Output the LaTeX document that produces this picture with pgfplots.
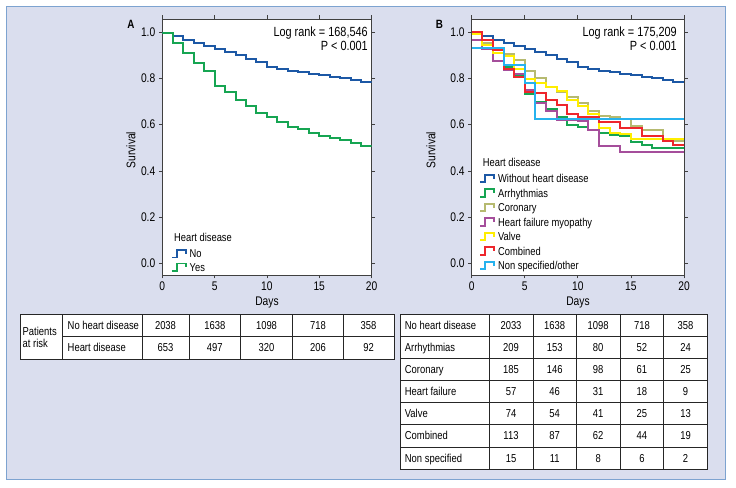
\documentclass[border=0pt]{standalone}
\usepackage{fontspec}
\setmainfont{Liberation Sans}[FakeStretch=0.82]
\usepackage{pgfplots}
\usepackage{pgfplotstable}
\pgfplotsset{compat=1.18}
\definecolor{bgc}{RGB}{218,222,238}
\definecolor{brd}{RGB}{125,163,208}
\definecolor{cblue}{RGB}{28,88,165}
\definecolor{cgreen}{RGB}{22,165,82}
\definecolor{colive}{RGB}{182,186,112}
\definecolor{cpurple}{RGB}{165,78,155}
\definecolor{cyellow}{RGB}{255,238,0}
\definecolor{cred}{RGB}{238,38,44}
\definecolor{ccyan}{RGB}{38,178,238}
\newcommand{\fs}[1]{\fontsize{#1bp}{#1bp}\selectfont}

\pgfplotstableread{
d no yes
0 0.995 0.995
1 0.984 0.952
2 0.964 0.911
3 0.955 0.867
4 0.941 0.832
5 0.926 0.769
6 0.913 0.743
7 0.900 0.707
8 0.884 0.682
9 0.870 0.652
10 0.850 0.633
11 0.842 0.613
12 0.834 0.589
13 0.827 0.580
14 0.821 0.565
15 0.815 0.550
16 0.808 0.541
17 0.802 0.532
18 0.793 0.519
19 0.786 0.509
20 0.786 0.509
}\tabA

\pgfplotstableread{
d wo ar co hf va cb ns
0 0.995 0.990 0.995 0.965 0.990 1.000 0.930
1 0.984 0.950 0.955 0.928 0.945 0.965 0.930
2 0.964 0.925 0.930 0.877 0.909 0.925 0.930
3 0.955 0.850 0.906 0.837 0.895 0.840 0.860
4 0.941 0.810 0.880 0.820 0.840 0.805 0.860
5 0.926 0.733 0.833 0.748 0.797 0.740 0.779
6 0.913 0.700 0.801 0.693 0.780 0.735 0.625
7 0.900 0.667 0.765 0.657 0.762 0.707 0.625
8 0.884 0.635 0.743 0.622 0.744 0.685 0.625
9 0.870 0.598 0.720 0.620 0.707 0.648 0.625
10 0.850 0.592 0.693 0.617 0.681 0.632 0.625
11 0.842 0.577 0.657 0.577 0.648 0.632 0.625
12 0.834 0.566 0.638 0.507 0.584 0.610 0.625
13 0.827 0.555 0.635 0.507 0.563 0.610 0.625
14 0.821 0.553 0.625 0.483 0.558 0.584 0.625
15 0.815 0.527 0.596 0.483 0.540 0.584 0.625
16 0.808 0.511 0.578 0.483 0.540 0.550 0.625
17 0.802 0.497 0.578 0.483 0.540 0.550 0.625
18 0.793 0.497 0.535 0.483 0.540 0.530 0.625
19 0.786 0.497 0.528 0.483 0.540 0.510 0.625
20 0.786 0.497 0.528 0.483 0.540 0.510 0.625
}\tabB

\pgfplotsset{km/.style={
  scale only axis, height=256bp,
  xmin=0, xmax=20, ymin=-0.05, ymax=1.057,
  axis background/.style={fill=white},
  axis line style={draw=black!75, line width=0.8bp},
  tick align=outside, tick style={black!75, line width=0.8bp},
  major tick length=3.5bp,
  xtick={0,5,10,15,20}, ytick={0,0.2,0.4,0.6,0.8,1},
  /pgf/number format/assume math mode=true,
  yticklabel style={/pgf/number format/fixed, /pgf/number format/fixed zerofill, /pgf/number format/precision=1},
  ticklabel style={font=\fs{12.5}},
  legend image code/.code={\draw[##1, line width=1.8bp] (0bp,-2.5bp) -- (5bp,-2.5bp) -- (5bp,5bp) -- (14bp,5bp) -- (14bp,1.2bp);},
  legend style={draw=none, fill=none, inner sep=0pt, column sep=2bp,
     font=\fs{11.4}, nodes={inner sep=1bp, text height=8bp, text depth=2.5bp}},
  legend cell align=left,
  every axis plot/.append style={const plot, line width=2bp, mark=none},
}}

\begin{document}
\begin{tikzpicture}[x=1bp,y=1bp]
\useasboundingbox (0,0) rectangle (736,488);
\fill[bgc] (6.7,8.5) rectangle (725.5,481.3);
\draw[brd, line width=1.5bp] (6.7,8.5) rectangle (725.5,481.3);

% Panel A
\begin{axis}[km, at={(162.3bp,213bp)}, anchor=south west, width=209.2bp,
  legend style={at={(0.04,0.103)}, anchor=north west, row sep=1bp}]
\addplot[cblue] table[x=d,y=no]{\tabA};
\addplot[cgreen] table[x=d,y=yes]{\tabA};
\legend{No,Yes}
\end{axis}

% Panel B
\begin{axis}[km, at={(471.7bp,213bp)}, anchor=south west, width=212.3bp,
  legend style={at={(0.035,0.397)}, anchor=north west, row sep=2bp}]
\addplot[cblue] table[x=d,y=wo]{\tabB};
\addplot[cgreen] table[x=d,y=ar]{\tabB};
\addplot[colive] table[x=d,y=co]{\tabB};
\addplot[cpurple] table[x=d,y=hf]{\tabB};
\addplot[cyellow] table[x=d,y=va]{\tabB};
\addplot[cred] table[x=d,y=cb]{\tabB};
\addplot[ccyan] table[x=d,y=ns]{\tabB};
\legend{Without heart disease,Arrhythmias,Coronary,Heart failure myopathy,Valve,Combined,Non specified/other}
\end{axis}

% labels
\node[font=\fs{12}\bfseries] at (131,463.5) {A};
\node[font=\fs{12}\bfseries] at (439.3,463.5) {B};
\node[font=\fs{13.3}, anchor=base east, inner sep=0pt] at (368,451.5) {Log rank = 168,546};
\node[font=\fs{13.3}, anchor=base east, inner sep=0pt] at (368,437.5) {P < 0.001};
\node[font=\fs{13.3}, anchor=base east, inner sep=0pt] at (677,451.5) {Log rank = 175,209};
\node[font=\fs{13.3}, anchor=base east, inner sep=0pt] at (677,437.5) {P < 0.001};
\node[font=\fs{12.5}, rotate=90] at (131,338) {Survival};
\node[font=\fs{12.5}, rotate=90] at (431,338) {Survival};
\node[font=\fs{12.5}] at (267,185) {Days};
\node[font=\fs{12.5}] at (578,185) {Days};
\node[font=\fs{11.4}, anchor=base west, inner sep=0pt] at (174,246) {Heart disease};
\node[font=\fs{11.4}, anchor=base west, inner sep=0pt] at (482.7,321) {Heart disease};

% Table A
\fill[white] (20.7,129) rectangle (393.9,174);
\begin{scope}[line width=0.7bp, draw=black!85]
\draw (20.7,129) rectangle (393.9,174);
\draw (62.7,151.3) -- (393.9,151.3);
\foreach \x in {62.7,142,189,240.6,292.5,343.4} \draw (\x,129) -- (\x,174);
\end{scope}
\node[anchor=west, align=left, font=\fs{11.5}, inner sep=0pt] at (22.5,150.5) {Patients\\at risk};
\node[anchor=base west, font=\fs{11.5}, inner sep=0pt] at (67.5,158.6) {No heart disease};
\node[anchor=base west, font=\fs{11.5}, inner sep=0pt] at (67.5,136.1) {Heart disease};
\foreach \v/\x in {2038/165.5,1638/214.8,1098/266.5,718/318,358/368.6}
  \node[anchor=base, font=\fs{11.5}, inner sep=0pt] at (\x,158.6) {\v};
\foreach \v/\x in {653/165.5,497/214.8,320/266.5,206/318,92/368.6}
  \node[anchor=base, font=\fs{11.5}, inner sep=0pt] at (\x,136.1) {\v};

% Table B
\fill[white] (400,19) rectangle (707.5,174);
\begin{scope}[line width=0.7bp, draw=black!85]
\draw (400,19) rectangle (707.5,174);
\foreach \i in {1,...,6} \draw (400,{174-\i*22.143}) -- (707.5,{174-\i*22.143});
\foreach \x in {489,533,576.4,620,663.7} \draw (\x,19) -- (\x,174);
\end{scope}
\foreach \lab/\a/\b/\c/\d/\e [count=\i] in {No heart disease/2033/1638/1098/718/358,
  Arrhythmias/209/153/80/52/24, Coronary/185/146/98/61/25, Heart failure/57/46/31/18/9,
  Valve/74/54/41/25/13, Combined/113/87/62/44/19, Non specified/15/11/8/6/2}{
  \pgfmathsetmacro\yy{174-(\i-0.5)*22.143-4.1}
  \node[anchor=base west, font=\fs{11.5}, inner sep=0pt] at (404.7,\yy) {\lab};
  \node[anchor=base, font=\fs{11.5}, inner sep=0pt] at (511,\yy) {\a};
  \node[anchor=base, font=\fs{11.5}, inner sep=0pt] at (554.7,\yy) {\b};
  \node[anchor=base, font=\fs{11.5}, inner sep=0pt] at (598.2,\yy) {\c};
  \node[anchor=base, font=\fs{11.5}, inner sep=0pt] at (641.9,\yy) {\d};
  \node[anchor=base, font=\fs{11.5}, inner sep=0pt] at (685.6,\yy) {\e};
}
\end{tikzpicture}
\end{document}
